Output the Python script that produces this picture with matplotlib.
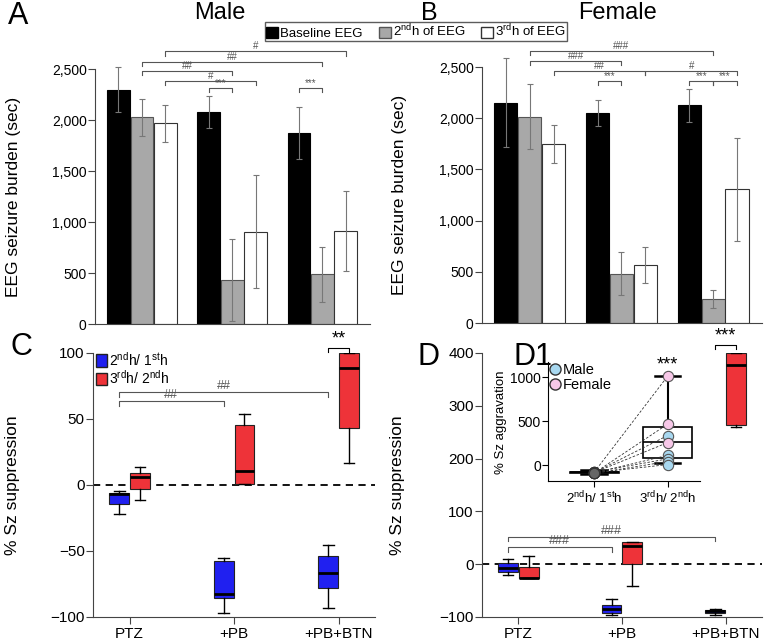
import numpy as np
import matplotlib.pyplot as plt
from matplotlib.patches import Patch
from matplotlib.lines import Line2D

plt.rcParams['font.family'] = ['Liberation Sans', 'DejaVu Sans']
plt.rcParams['mathtext.default'] = 'regular'

# ---- data: A (male) / B (female) seizure burden, mean and error ----
groups = ['PTZ', '+PB', '+PB+BTN']
male_base = [2300, 2080, 1875]
male_base_err = [220, 155, 255]
male_2nd = [2030, 430, 490]
male_2nd_err = [180, 400, 270]
male_3rd = [1970, 905, 915]
male_3rd_err = [180, 555, 395]

female_base = [2150, 2050, 2125]
female_base_err = [435, 130, 165]
female_2nd = [2015, 480, 235]
female_2nd_err = [315, 210, 85]
female_3rd = [1745, 565, 1305]
female_3rd_err = [185, 178, 505]

# ---- C (male) / D (female) % suppression: whislo, q1, med, q3, whishi ----
male_r21 = [(-22, -14.4, -7, -5.8, -4.3), (-96.7, -86, -82.3, -57.5, -55.7), (-93, -78, -67, -53.7, -45.8)]
male_r32 = [(-11.4, -2.8, 6, 9.4, 13.4), (0.5, 0.5, 10.4, 45.3, 54), (16.5, 42.8, 88.6, 100, 100)]
female_r21 = [(-21, -15, -8, 1.3, 10), (-96.8, -91.8, -84, -77.8, -65.8), (-95.6, -92, -89, -86, -84)]
female_r32 = [(-27, -27, -26, -5.7, 15.8), (-41.8, -0.6, 34, 41.8, 41.8), (259, 264, 378, 400, 400)]

# ---- D1 inset: % aggravation, paired points ----
agg_labels = ['2$^{nd}$h/ 1$^{st}$h', '3$^{rd}$h/ 2$^{nd}$h']
agg_male_first = [-85, -90, -80, -95, -88]
agg_male_second = [335, 110, 70, 40, 5]
agg_female_first = [-82, -92, -86]
agg_female_second = [1010, 465, 255]
agg_box = [(-100, -90, -82, -75, -60), (19, 84, 264, 430, 1015)]

BLUE = '#2020f0'
RED = '#ee3339'
GRAY = '#a8a8a8'

fig = plt.figure(figsize=(7.75, 6.4), dpi=100)


def bracket(ax, x1, x2, y, h, text, color='#555555', fs=7):
    ax.plot([x1, x1, x2, x2], [y - h, y, y, y - h], color=color, lw=0.8, clip_on=False)
    ax.text((x1 + x2) / 2, y, text, ha='center', va='bottom', fontsize=fs, color=color, clip_on=False)


def bar_panel(rect, base, base_err, h2, h2_err, h3, h3_err):
    ax = fig.add_axes(rect)
    x = np.arange(len(groups))
    w = 0.26
    for off, vals, err, fc, ec in [(-w, base, base_err, 'black', 'black'),
                                   (0, h2, h2_err, GRAY, '#555555'),
                                   (w, h3, h3_err, 'white', '#333333')]:
        b = ax.bar(x + off, vals, w * 0.97, yerr=err, color=fc, edgecolor=ec, lw=0.8,
                   error_kw=dict(ecolor='#777777', elinewidth=0.8, capsize=2.5, capthick=0.8))
        for a in b.errorbar.lines[1] + b.errorbar.lines[2]:
            a.set_clip_on(False)
    ax.set_xlim(-0.52, 2.53)
    ax.set_ylim(0, 2500)
    ax.set_yticks([0, 500, 1000, 1500, 2000, 2500])
    ax.set_yticklabels(['0', '500', '1,000', '1,500', '2,000', '2,500'], fontsize=10)
    ax.set_xticks([])
    for s in ['top', 'right']:
        ax.spines[s].set_visible(False)
    for s in ['left', 'bottom']:
        ax.spines[s].set_color('#444444')
    ax.tick_params(axis='y', length=5, color='#444444', pad=1)
    ax.set_ylabel('EEG seizure burden (sec)', fontsize=12.5)
    ax.yaxis.set_label_coords(-0.27, 0.5)
    return ax


axA = bar_panel([0.1226, 0.4937, 0.355, 0.398], male_base, male_base_err,
                male_2nd, male_2nd_err, male_3rd, male_3rd_err)
bracket(axA, 0.26, 2.26, 2675, 40, '#')
bracket(axA, 0, 2, 2568, 40, '##')
bracket(axA, 0, 1, 2480, 40, '##')
bracket(axA, 0.26, 1.26, 2390, 40, '#')
bracket(axA, 0.74, 1, 2313, 40, '***')
bracket(axA, 1.74, 2, 2313, 40, '***')

axB = bar_panel([0.622, 0.4953, 0.361, 0.40], female_base, female_base_err,
                female_2nd, female_2nd_err, female_3rd, female_3rd_err)
bracket(axB, 0, 2, 2657, 40, '###')
bracket(axB, 0, 1, 2560, 40, '###')
bracket(axB, 0.26, 1.26, 2462, 40, '##')
bracket(axB, 1.26, 2.26, 2462, 40, '#')
bracket(axB, 0.74, 1, 2364, 40, '***')
bracket(axB, 1.74, 2, 2364, 40, '***')
bracket(axB, 2, 2.26, 2364, 40, '***')


def stats(vals):
    return [dict(whislo=a, q1=b, med=c, q3=d, whishi=e, fliers=[]) for a, b, c, d, e in vals]


def box_panel(rect, r21, r32, ylim, yticks):
    ax = fig.add_axes(rect)
    pos = np.arange(len(groups))
    bw = 0.19
    for off, data, col in [(-0.1, r21, BLUE), (0.1, r32, RED)]:
        ax.bxp(stats(data), positions=pos + off, widths=bw, patch_artist=True,
               showfliers=False, manage_ticks=False, capwidths=bw * 0.55,
               boxprops=dict(facecolor=col, edgecolor='#222222', lw=0.8),
               medianprops=dict(color='black', lw=2),
               whiskerprops=dict(color='black', lw=1),
               capprops=dict(color='black', lw=1))
    ax.axhline(0, color='black', ls='--', lw=1.3, dashes=(4, 3), zorder=0)
    ax.set_xlim(-0.35, 2.35)
    ax.set_ylim(*ylim)
    ax.set_yticks(yticks)
    ax.set_xticks(pos)
    ax.set_xticklabels(groups, fontsize=11)
    ax.tick_params(axis='y', labelsize=11, length=5, color='#444444', pad=1)
    ax.tick_params(axis='x', length=5, color='#444444', pad=2)
    for s in ['top', 'right']:
        ax.spines[s].set_visible(False)
    for s in ['left', 'bottom']:
        ax.spines[s].set_color('#444444')
    ax.set_ylabel('% Sz suppression', fontsize=12.5)
    ax.yaxis.set_label_coords(-0.26, 0.5)
    return ax


axC = box_panel([0.12, 0.036, 0.364, 0.4125], male_r21, male_r32, (-100, 100), [-100, -50, 0, 50, 100])
bracket(axC, -0.1, 0.9, 63.3, 3.5, '##', fs=9)
bracket(axC, -0.1, 1.9, 70.1, 3.5, '##', fs=9)
bracket(axC, 1.9, 2.1, 104, 3, '**', color='black', fs=13)
axC.legend(handles=[Patch(facecolor=BLUE, edgecolor='#222222'), Patch(facecolor=RED, edgecolor='#222222')],
           labels=['2$^{nd}$h/ 1$^{st}$h', '3$^{rd}$h/ 2$^{nd}$h'], loc='upper left',
           bbox_to_anchor=(0.01, 1.01), frameon=False, fontsize=10, handlelength=0.8,
           handleheight=1.0, handletextpad=0.15, labelspacing=0.05, borderaxespad=0, borderpad=0)

axD = box_panel([0.622, 0.036, 0.361, 0.4125], female_r21, female_r32, (-100, 400),
                [-100, 0, 100, 200, 300, 400])
axD.yaxis.set_label_coords(-0.275, 0.5)
bracket(axD, -0.1, 0.9, 31.6, 8, '###', fs=9)
bracket(axD, -0.1, 1.9, 52, 8, '###', fs=9)
bracket(axD, 1.9, 2.1, 416, 8, '***', color='black', fs=13)

# ---- inset D1 ----
axI = fig.add_axes([0.707, 0.248, 0.196, 0.186])
axI.patch.set_alpha(0)
n_m = len(agg_male_first)
for y0, y1 in zip(agg_male_first + agg_female_first, agg_male_second + agg_female_second):
    axI.plot([0, 1], [y0, y1], color='#333333', lw=0.6, ls='--', dashes=(3, 2), zorder=2)
axI.bxp(stats(agg_box), positions=[0, 1], widths=0.67, patch_artist=True, showfliers=False,
        manage_ticks=False, capwidths=0.35,
        boxprops=dict(facecolor='none', edgecolor='black', lw=1.2),
        medianprops=dict(color='black', lw=1.2),
        whiskerprops=dict(color='black', lw=1.5),
        capprops=dict(color='black', lw=1.8), zorder=1)
axI.scatter(np.zeros(n_m + len(agg_female_first)), agg_male_first + agg_female_first, s=55,
            color='#666666', edgecolor='#333333', lw=0.8, zorder=3)
axI.scatter(np.ones(n_m), agg_male_second, s=55, color='#a8d8f0', edgecolor='#555555', lw=0.8, zorder=3)
axI.scatter(np.ones(len(agg_female_second)), agg_female_second, s=55, color='#f7c8e8',
            edgecolor='#555555', lw=0.8, zorder=3)
axI.text(1, 1040, '***', ha='center', va='bottom', fontsize=13)
axI.set_xlim(-0.63, 1.44)
axI.set_ylim(-185, 1170)
axI.set_yticks([0, 500, 1000])
axI.set_xticks([0, 1])
axI.set_xticklabels(agg_labels, fontsize=9.5)
axI.tick_params(axis='y', labelsize=10, length=4, pad=1)
axI.tick_params(axis='x', length=4, pad=2)
for s in ['top', 'right']:
    axI.spines[s].set_visible(False)
axI.set_ylabel('% Sz aggravation', fontsize=9.5, labelpad=2)
axI.legend(handles=[Line2D([], [], marker='o', ls='', markersize=8, markerfacecolor='#a8d8f0', markeredgecolor='#333333'),
                    Line2D([], [], marker='o', ls='', markersize=8, markerfacecolor='#f7c8e8', markeredgecolor='#333333')],
           labels=['Male', 'Female'], loc='upper left', bbox_to_anchor=(-0.02, 1.04), frameon=False,
           fontsize=10.5, handlelength=0.6, handletextpad=0.2, labelspacing=0.05, borderaxespad=0)

# ---- shared legend, titles, panel letters ----
fig.legend(handles=[Patch(facecolor='black', edgecolor='black'), Patch(facecolor=GRAY, edgecolor='#555555'),
                    Patch(facecolor='white', edgecolor='#333333')],
           labels=['Baseline EEG', '2$^{nd}$h of EEG', '3$^{rd}$h of EEG'], ncol=3, loc='center',
           bbox_to_anchor=(0.537, 0.951), fontsize=9.5, frameon=True, fancybox=False, edgecolor='#333333',
           handlelength=0.9, handleheight=0.9, handletextpad=0.15, columnspacing=1.2, borderpad=0.1)

fig.text(0.284, 0.98, 'Male', ha='center', va='center', fontsize=17)
fig.text(0.797, 0.98, 'Female', ha='center', va='center', fontsize=17)
fig.text(0.01, 0.998, 'A', ha='left', va='top', fontsize=22)
fig.text(0.543, 0.999, 'B', ha='left', va='top', fontsize=18)
fig.text(0.013, 0.482, 'C', ha='left', va='top', fontsize=22)
fig.text(0.539, 0.466, 'D', ha='left', va='top', fontsize=22)
fig.text(0.662, 0.466, 'D1', ha='left', va='top', fontsize=22)

plt.savefig('out.png', dpi=100)
